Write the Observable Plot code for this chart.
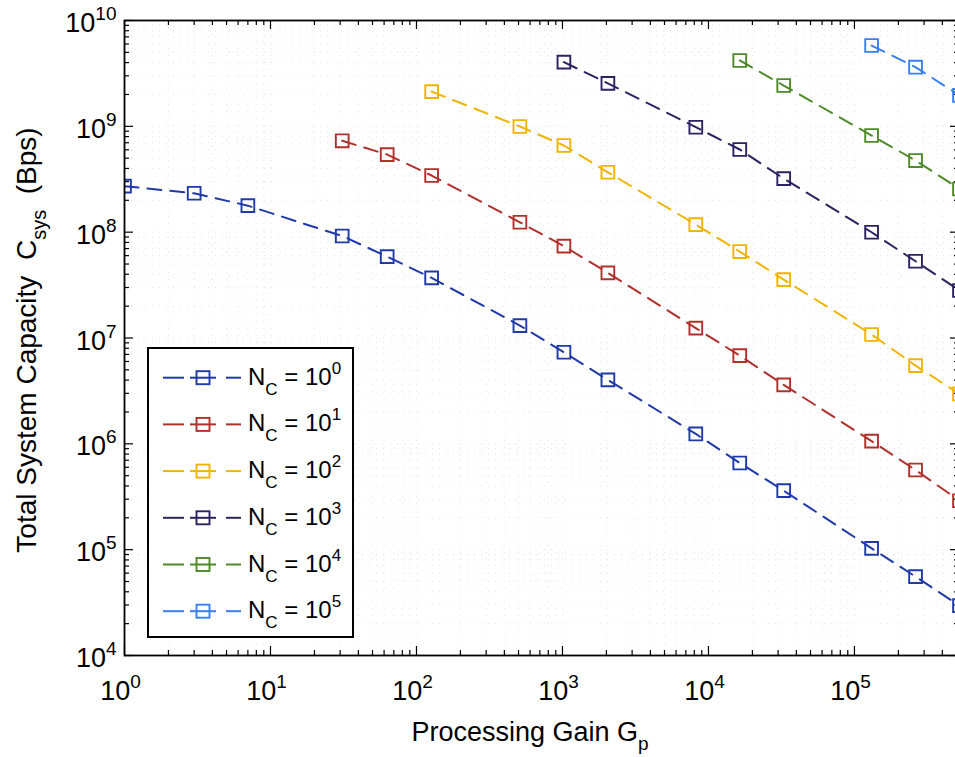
<!DOCTYPE html>
<html>
<head>
<meta charset="utf-8">
<script src="https://cdn.jsdelivr.net/npm/d3@7"></script>
<script src="https://cdn.jsdelivr.net/npm/@observablehq/plot@0.6"></script>
<style>
  html, body { margin: 0; padding: 0; background: #fff; overflow: hidden; }
  #chart { width: 955px; height: 757px; overflow: hidden; }
  #chart svg { display: block; max-width: none !important; }
</style>
</head>
<body>
<div id="chart"></div>
<script>
// ---- data ----
const seriesExponents = [0, 1, 2, 3, 4, 5];               // N_C = 10^k
const seriesColors = ["#1f3aa8", "#b0302c", "#f0b400", "#2d2260", "#4e8a2a", "#3a7ef2"];

const gainN0 = [1, 3, 7, 31, 63, 127, 511, 1023, 2047, 8191, 16383, 32767, 131071, 262143, 524287];
const capN0  = [2.72e8, 2.33e8, 1.78e8, 9.2e7, 5.87e7, 3.70e7, 1.31e7, 7.33e6, 4.02e6, 1.24e6, 6.59e5, 3.61e5, 1.03e5, 5.56e4, 2.96e4];

const gainN1 = [31, 63, 127, 511, 1023, 2047, 8191, 16383, 32767, 131071, 262143, 524287];
const capN1  = [7.30e8, 5.41e8, 3.43e8, 1.24e8, 7.37e7, 4.12e7, 1.24e7, 6.82e6, 3.61e6, 1.06e6, 5.66e5, 2.90e5];

const gainN2 = [127, 511, 1023, 2047, 8191, 16383, 32767, 131071, 262143, 524287];
const capN2  = [2.13e9, 9.96e8, 6.59e8, 3.68e8, 1.18e8, 6.56e7, 3.56e7, 1.08e7, 5.48e6, 2.96e6];

const gainN3 = [1023, 2047, 8191, 16383, 32767, 131071, 262143, 524287];
const capN3  = [4.04e9, 2.55e9, 9.81e8, 6.04e8, 3.21e8, 9.98e7, 5.31e7, 2.81e7];

const gainN4 = [16383, 32767, 131071, 262143, 524287];
const capN4  = [4.19e9, 2.43e9, 8.19e8, 4.75e8, 2.56e8];

const gainN5 = [131071, 262143, 524287];
const capN5  = [5.80e9, 3.62e9, 1.96e9];

const xTickValues = [1, 10, 100, 1000, 10000, 100000];
const xTickLabels = ["10^0", "10^1", "10^2", "10^3", "10^4", "10^5"];
const yTickValues = [1e4, 1e5, 1e6, 1e7, 1e8, 1e9, 1e10];
const yTickLabels = ["10^4", "10^5", "10^6", "10^7", "10^8", "10^9", "10^10"];

const xDomain = [1, 524287];
const yDomain = [1e4, 1e10];

// ---- build table from arrays ----
const gains = [gainN0, gainN1, gainN2, gainN3, gainN4, gainN5];
const caps  = [capN0, capN1, capN2, capN3, capN4, capN5];
const series = seriesExponents.map((k, i) => ({
  k, color: seriesColors[i],
  rows: gains[i].map((g, j) => ({g, c: caps[i][j]}))
}));

// ---- layout ----
const W = 962, H = 757, mL = 124, mR = 3, mT = 20, mB = 102;
const frameW = W - mL - mR, frameH = H - mT - mB;
const FONT = "'Liberation Sans', Arial, Helvetica, sans-serif";

const allX = d3.scaleLog().domain(xDomain).ticks();
const allY = d3.scaleLog().domain(yDomain).ticks();
const isMajor = v => Math.abs(Math.log10(v) - Math.round(Math.log10(v))) < 1e-9;
const minorX = allX.filter(v => !isMajor(v));
const minorY = allY.filter(v => !isMajor(v));

const majLen = 9, minLen = 5;
const tickStyle = {stroke: "black", strokeWidth: 1.2};
const gridStyle = {stroke: "#c4c4c4", strokeDasharray: "1,6", strokeWidth: 1, strokeOpacity: 0.45};

const marks = [
  Plot.ruleX(allX, {x: d => d, ...gridStyle}),
  Plot.ruleY(allY, {y: d => d, ...gridStyle}),
];

series.forEach(s => {
  marks.push(Plot.line(s.rows, {x: "g", y: "c", stroke: s.color, strokeWidth: 2, strokeDasharray: "14,9", clip: true}));
  marks.push(Plot.dot(s.rows, {x: "g", y: "c", symbol: "square", r: 7.2, fill: "none", stroke: s.color, strokeWidth: 1.9, clip: true}));
});

marks.push(
  Plot.tickX(xTickValues, {x: d => d, insetTop: frameH - majLen, ...tickStyle}),
  Plot.tickX(minorX, {x: d => d, insetTop: frameH - minLen, ...tickStyle}),
  Plot.tickX(xTickValues, {x: d => d, insetBottom: frameH - majLen, ...tickStyle}),
  Plot.tickX(minorX, {x: d => d, insetBottom: frameH - minLen, ...tickStyle}),
  Plot.tickY(yTickValues, {y: d => d, insetRight: frameW - majLen, ...tickStyle}),
  Plot.tickY(minorY, {y: d => d, insetRight: frameW - minLen, ...tickStyle}),
  Plot.tickY(yTickValues, {y: d => d, insetLeft: frameW - majLen, ...tickStyle}),
  Plot.tickY(minorY, {y: d => d, insetLeft: frameW - minLen, ...tickStyle}),
  Plot.frame({stroke: "black", strokeWidth: 1.8}),
  Plot.axisX({ticks: xTickValues, anchor: "bottom", tickSize: 0, tickPadding: 25, dx: -4,
              tickFormat: d => xTickLabels[xTickValues.indexOf(d)], label: null, fontSize: 27}),
  Plot.axisY({ticks: yTickValues, anchor: "left", tickSize: 0, tickPadding: 8, dy: 3,
              tickFormat: d => yTickLabels[yTickValues.indexOf(d)], label: null, fontSize: 27})
);

const chart = Plot.plot({
  width: W, height: H,
  marginLeft: mL, marginRight: mR, marginTop: mT, marginBottom: mB,
  x: {type: "log", domain: xDomain, axis: null},
  y: {type: "log", domain: yDomain, axis: null},
  style: {fontFamily: FONT, fontSize: "27px", background: "white", color: "black", maxWidth: "none"},
  marks
});
chart.style.maxWidth = "none";
document.getElementById("chart").appendChild(chart);

// ---- superscripts in tick labels ----
const NS = "http://www.w3.org/2000/svg";
chart.querySelectorAll('g[aria-label="x-axis tick label"] text, g[aria-label="y-axis tick label"] text')
  .forEach(t => {
    const parts = t.textContent.split("^");
    if (parts.length !== 2) return;
    t.textContent = "";
    const b = document.createElementNS(NS, "tspan");
    b.textContent = parts[0];
    const e = document.createElementNS(NS, "tspan");
    e.textContent = parts[1];
    e.setAttribute("font-size", "19px");
    e.setAttribute("dy", "-12");
    t.appendChild(b); t.appendChild(e);
  });

const svg = d3.select(chart);

// ---- axis titles ----
const xt = svg.append("text")
  .attr("x", 530).attr("y", 741).attr("text-anchor", "middle")
  .attr("font-family", FONT).attr("font-size", 27).attr("fill", "black");
xt.append("tspan").text("Processing Gain G");
xt.append("tspan").attr("font-size", 19).attr("dy", 9).text("p");

const yt = svg.append("text")
  .attr("transform", "translate(36,340) rotate(-90)").attr("text-anchor", "middle")
  .attr("font-family", FONT).attr("font-size", 28).attr("fill", "black");
yt.append("tspan").text("Total System Capacity\u00A0\u00A0C");
yt.append("tspan").attr("font-size", 20).attr("dy", 10).text("sys");
yt.append("tspan").attr("dy", -10).text("\u00A0\u00A0(Bps)");

// ---- legend ----
const lg = svg.append("g").attr("font-family", FONT).attr("text-anchor", "start");
lg.append("rect").attr("x", 148).attr("y", 348).attr("width", 205).attr("height", 289)
  .attr("fill", "white").attr("stroke", "black").attr("stroke-width", 2);
series.forEach((s, i) => {
  const cy = 377.7 + i * 46.7;
  [[163, 184], [190, 216], [226, 241]].forEach(([a, b]) =>
    lg.append("line").attr("x1", a).attr("x2", b).attr("y1", cy).attr("y2", cy)
      .attr("stroke", s.color).attr("stroke-width", 2));
  lg.append("rect").attr("x", 203 - 6.5).attr("y", cy - 6.5).attr("width", 13).attr("height", 13)
    .attr("fill", "none").attr("stroke", s.color).attr("stroke-width", 1.9);
  const t = lg.append("text").attr("x", 248).attr("y", cy + 7).attr("font-size", 24)
    .attr("fill", "black").attr("text-anchor", "start");
  t.append("tspan").text("N");
  t.append("tspan").attr("font-size", 17).attr("dy", 10).text("C");
  t.append("tspan").attr("dy", -10).text(" = 10");
  t.append("tspan").attr("font-size", 17).attr("dy", -11).text(String(s.k));
});
</script>
</body>
</html>
